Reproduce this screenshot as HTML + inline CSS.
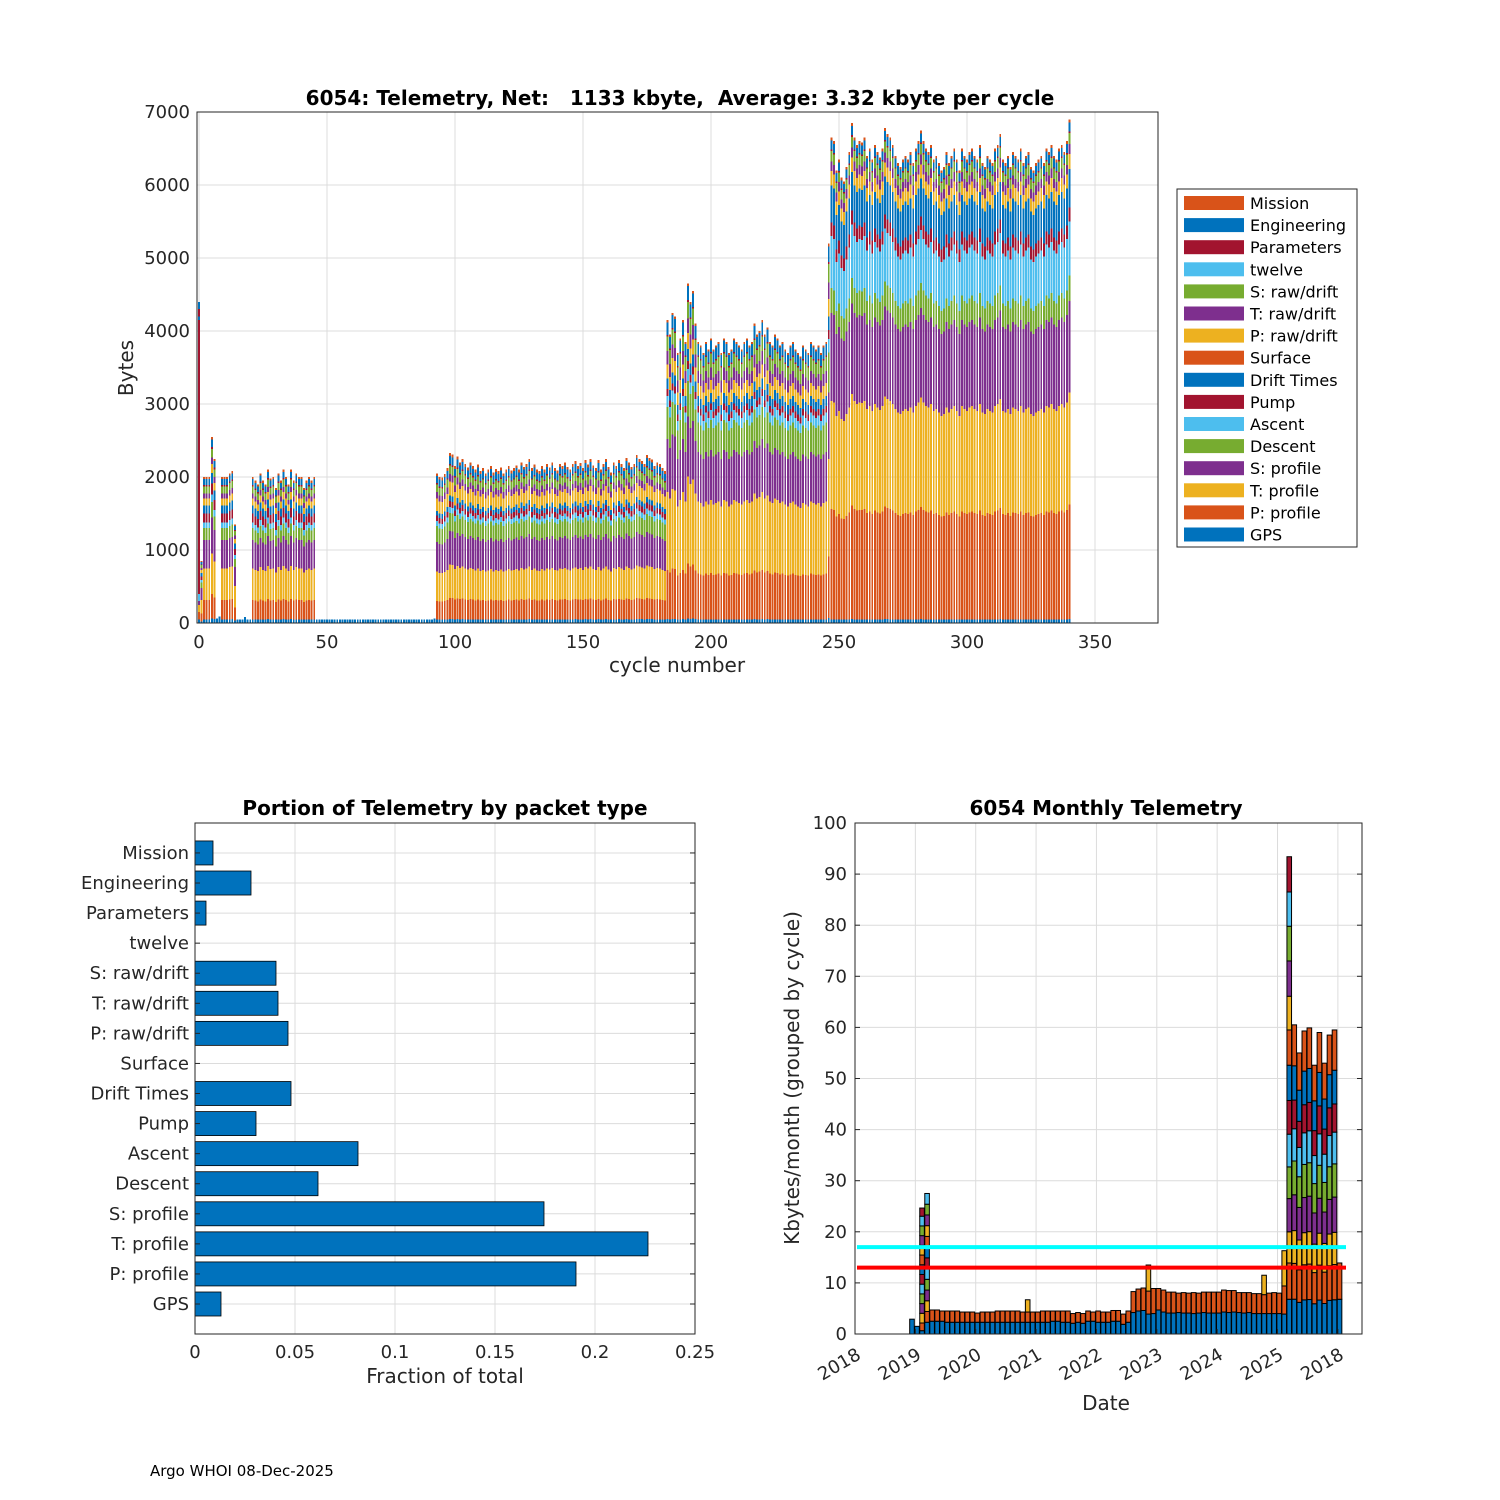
<!DOCTYPE html>
<html><head><meta charset="utf-8">
<style>
html,body{margin:0;padding:0;background:#fff;}
svg{display:block;font-family:"DejaVu Sans","Liberation Sans",sans-serif;}
.tk{font-size:18px;fill:#262626;}
.dtk{font-size:18px;fill:#262626;}
.ttl{font-size:20px;font-weight:bold;fill:#000;white-space:pre;}
.lbl{font-size:20px;fill:#262626;}
.grid{stroke:#dcdcdc;stroke-width:1;}
</style></head>
<body>
<svg id="fig" width="1500" height="1500" viewBox="0 0 1500 1500">
<rect width="1500" height="1500" fill="#fff"/>
<g id="top"></g>
<g id="bl"></g>
<g id="br"></g>
<text x="150" y="1476" font-size="15" fill="#000">Argo WHOI 08-Dec-2025</text>
</svg>
<script>
// ===== data =====
const packetNames = ["GPS","P: profile","T: profile","S: profile","Descent","Ascent","Pump","Drift Times","Surface","P: raw/drift","T: raw/drift","S: raw/drift","twelve","Parameters","Engineering","Mission"];
const profileA = [50,265,435,390,165,80,120,115,0,95,70,95,0,20,80,30];
const profileB = [50,270,420,430,230,70,80,70,0,180,90,110,0,20,100,40];
const profileC = [50,635,1000,685,410,140,90,140,0,180,170,190,0,20,160,30];
const profileD = [50,1480,1450,1180,330,700,180,500,0,190,130,140,0,20,120,40];
const cycle0Total = 4400;
const totalsA1 = [850,2000,2000,2000,2550,2250,60,90,2000,2000,2000,2050,2080,1350]; // cycles 1-14
const totalsE1 = [50,50,50,80,50,50]; // cycles 15-20
const totalsA2 = [2000,1950,1900,2050,1950,1900,2100,1980,2000,1850,2050,1950,2100,2000,1900,2100,1950,2050,2000,2000,1850,1950,2000,1950,2000]; // 21-45
const totalsE2 = [50,50,50,50,50,50,50,50,50,50,50,50,50,50,50,50,50,50,50,50,50,50,50,50,50,50,50,50,50,50,50,50,50,50,50,50,50,50,50,50,50,50,50,50,50,50,60]; // 46-92
const totalsB = [2050,2000,1990,2040,2120,2330,2310,2150,2280,2200,2250,2180,2130,2200,2150,2100,2170,2080,2120,2050,2100,2150,2060,2110,2080,2130,2050,2100,2150,2090,2120,2160,2100,2200,2140,2180,2250,2120,2170,2100,2080,2150,2100,2180,2130,2200,2120,2090,2180,2150,2200,2140,2100,2180,2220,2150,2190,2120,2230,2170,2250,2160,2120,2230,2100,2180,2250,2140,2060,2200,2150,2230,2180,2120,2260,2200,2140,2180,2300,2250,2220,2180,2300,2260,2240,2150,2200,2180,2120,2080]; // 93-182
const totalsC = [4150,3950,4250,4200,3700,3900,4150,3850,4650,4400,4550,4100,3850,3800,3700,3850,3750,3900,3750,3800,3850,3700,3900,3850,3700,3750,3900,3850,3800,3750,3850,3900,3800,3850,4100,3950,4000,4150,3950,4050,3850,3800,3950,3900,3800,3850,3750,3700,3800,3850,3750,3700,3650,3800,3750,3700,3850,3800,3750,3800,3700,3800,3850,5200]; // 183-246
const totalsD = [6650,6600,6200,6350,6100,6050,6250,6450,6850,6650,6550,6600,6580,6650,6400,6500,6350,6550,6450,6380,6500,6780,6700,6650,6550,6400,6300,6250,6350,6400,6350,6450,6300,6500,6600,6750,6600,6500,6450,6550,6350,6400,6300,6200,6250,6450,6300,6400,6500,6350,6200,6500,6400,6350,6450,6500,6400,6350,6550,6300,6250,6400,6350,6300,6500,6550,6700,6350,6300,6400,6250,6450,6400,6350,6500,6300,6400,6450,6250,6200,6300,6350,6400,6300,6500,6450,6550,6400,6350,6500,6550,6450,6600,6900]; // 247-340
const fractions = [0.013,0.1905,0.2265,0.1745,0.0615,0.0815,0.0305,0.048,0,0.0465,0.0415,0.0405,0,0.0055,0.028,0.009];
const yTicksTop = [0,1000,2000,3000,4000,5000,6000,7000];
const xTicksTop = [0,50,100,150,200,250,300,350];
const xTicksBL = [0,0.05,0.1,0.15,0.2,0.25];
const xTickLabelsBL = ["0","0.05","0.1","0.15","0.2","0.25"];
const yTicksBR = [0,10,20,30,40,50,60,70,80,90,100];
const dateTickLabels = ["2018","2019","2020","2021","2022","2023","2024","2025","2018"];
const monthBlueLow = [2.9,1.5]; // i0,i1
const monthSpecial2 = [0.65,1.5,1.9,1.9,1.9,1.9,1.9,1.9,1.9,1.9,1.9,1.9,1.9,1.6];
const monthSpecial3 = [2.3,2.1,2.1,2.1,2.1,2.1,2.1,2.1,2.1,2.1,2.1,2.1,2.1];
const monthBlueA = [2.5,2.5,2.5,2.3,2.3,2.3,2.3,2.3,2.3,2.3,2.3,2.3,2.3,2.3,2.3,2.3,2.3,2.3,2.3,2.3,2.3,2.3,2.3,2.3,2.5,2.5,2.3,2.3,2.1,2.3,2.1,2.5,2.5,2.3,2.3,2.3,2.5,2.5,1.9,2.3]; // i4-43
const monthTotalA = [4.7,4.7,4.5,4.5,4.5,4.5,4.3,4.3,4.3,4.1,4.3,4.3,4.3,4.5,4.5,4.5,4.5,4.5,4.3,4.3,4.3,4.3,4.5,4.5,4.5,4.5,4.5,4.5,4.0,4.2,4.0,4.5,4.3,4.5,4.3,4.3,4.6,4.6,3.9,4.5];
const monthBlueB = [4.2,4.5,4.6,3.9,4.0,4.7,4.3,4.1,4.1,4.2,4.1,4.1,4.0,4.1,4.2,4.1,4.1,4.1,4.3,4.2,4.3,4.2,4.1,4.2,4.0,4.0,4.0,4.0,4.0,4.0]; // i44-73
const monthTotalB = [8.3,8.8,9.0,8.4,8.9,8.9,8.6,8.2,8.2,8.0,8.1,8.0,8.1,8.0,8.2,8.2,8.2,8.2,8.6,8.5,8.5,8.1,8.1,8.1,7.9,7.9,7.7,8.0,8.1,8.0];
const yellowSpikeMonths = [23,47,70];
const yellowSpikeTops = [6.7,13.5,11.5];
const month74 = [3.9,5.5,6.9];
const month75 = [6.8,7.1,6.1,6.5,6.2,6.4,6.6,6.9,6.9,6.6,6.9,6.8,6.7,6.9];
const highSegProfile = [6.8,7,6.4,7,6.6,6.3,5.6,6.7,8];
const highTotals = [60.5,55,59.3,59.9,52.6,59,53,58.5,59.5]; // i76-84
const month85 = [6.8,7.1];
const cyanLevel = 17, redLevel = 13;

// ===== helpers =====
const NS = "http://www.w3.org/2000/svg";
const COLORS = ["#0072BD","#D95319","#EDB120","#7E2F8E","#77AC30","#4DBEEE","#A2142F"];
function mk(parent, tag, attrs, txt){
  const e = document.createElementNS(NS, tag);
  for (const k in attrs) e.setAttribute(k, attrs[k]);
  if (txt !== undefined) e.textContent = txt;
  parent.appendChild(e); return e;
}

// ===== top chart =====
(function(){
  const g = document.getElementById('top');
  const L=197,R=1158,T=112,B=623;
  const xS = c => 199 + c*2.56;
  const yS = v => B - v*(511/7000);
  yTicksTop.forEach(v=>{ const l=mk(g,'line',{x1:L,x2:R,y1:yS(v),y2:yS(v),class:'grid'});
     });
  xTicksTop.forEach(v=>{ const l=mk(g,'line',{x1:xS(v),x2:xS(v),y1:T,y2:B,class:'grid'});
     });
  const bars = mk(g,'g',{'shape-rendering':'crispEdges'});
   
  const w = 1.9;
  function drawCycle(c, total, prof){
    const sum = prof.reduce((a,b)=>a+b,0); let acc=0;
    prof.forEach((p,k)=>{ if(!p) return; const v=p*total/sum;
      const r=mk(bars,'rect',{x:xS(c)-w/2,y:yS(acc+v),width:w,height:v*(511/7000),fill:COLORS[k%7]});
       
      acc+=v; });
  }
  const gpsOnly=[1,0,0,0,0,0,0,0,0,0,0,0,0,0,0,0];
  const pumpOnly=[1,2,2,1,0,2,75,1,0,0,0,0,0,2,2,0];
  drawCycle(0, cycle0Total, pumpOnly);
  const groups=[[1,totalsA1,profileA],[15,totalsE1,gpsOnly],[21,totalsA2,profileA],[46,totalsE2,gpsOnly],[93,totalsB,profileB],[183,totalsC,profileC],[247,totalsD,profileD]];
  groups.forEach(([s,arr,prof])=>arr.forEach((t,i)=>drawCycle(s+i,t,t<150?gpsOnly:prof)));
  mk(g,'rect',{x:L,y:T,width:R-L,height:B-T,fill:'none',stroke:'#262626','stroke-width':1});
  yTicksTop.forEach(v=>{ const t=mk(g,'text',{x:L-7,y:yS(v)+6,'text-anchor':'end',class:'tk'},String(v));
     });
  xTicksTop.forEach(v=>{ const t=mk(g,'text',{x:xS(v),y:B+25,'text-anchor':'middle',class:'tk'},String(v));
     });
  const ti=mk(g,'text',{x:680,y:105,'text-anchor':'middle',class:'ttl'},'6054: Telemetry, Net:   1133 kbyte,  Average: 3.32 kbyte per cycle');
   
  const xl=mk(g,'text',{x:677,y:672,'text-anchor':'middle',class:'lbl'},'cycle number');
   
  const yl=mk(g,'text',{x:0,y:0,'text-anchor':'middle',class:'lbl',transform:'translate(133,368) rotate(-90)'},'Bytes');
   
  const lg=mk(g,'g',{});
   
  mk(lg,'rect',{x:1177,y:189,width:180,height:358,fill:'#fff',stroke:'#262626','stroke-width':1});
  for(let j=0;j<16;j++){ const k=15-j; const y=203+j*22.1;
    const e=mk(lg,'g',{});
     
    mk(e,'rect',{x:1184,y:y-7,width:60,height:14,fill:COLORS[k%7]});
    mk(e,'text',{x:1250,y:y+6,'font-size':16,fill:'#000'},packetNames[k]);
  }
})();

// ===== bottom-left chart =====
(function(){
  const g=document.getElementById('bl');
  const L=195,R=695,T=823,B=1334;
  const xS=f=>L+f*2000;
  const yS=k=>1304-k*30.07;
  xTicksBL.forEach(v=>{ const l=mk(g,'line',{x1:xS(v),x2:xS(v),y1:T,y2:B,class:'grid'});
     });
  packetNames.forEach((n,k)=>{ const l=mk(g,'line',{x1:L,x2:R,y1:yS(k),y2:yS(k),class:'grid'});
     });
  fractions.forEach((f,k)=>{ if(f<=0) return;
    const r=mk(g,'rect',{x:L,y:yS(k)-12,width:xS(f)-L,height:24,fill:'#0072BD',stroke:'#000','stroke-width':0.8});
     });
  mk(g,'rect',{x:L,y:T,width:R-L,height:B-T,fill:'none',stroke:'#262626','stroke-width':1});
  packetNames.forEach((n,k)=>{ mk(g,'line',{x1:L,x2:L+5,y1:yS(k),y2:yS(k),stroke:'#262626'}); mk(g,'line',{x1:R,x2:R-5,y1:yS(k),y2:yS(k),stroke:'#262626'});
    const t=mk(g,'text',{x:L-6,y:yS(k)+6,'text-anchor':'end',class:'tk'},n);
     });
  xTicksBL.forEach((v,i)=>{ const t=mk(g,'text',{x:xS(v),y:B+24,'text-anchor':'middle',class:'tk'},xTickLabelsBL[i]);
     });
  const ti=mk(g,'text',{x:445,y:815,'text-anchor':'middle',class:'ttl'},'Portion of Telemetry by packet type');
   
  const xl=mk(g,'text',{x:445,y:1383,'text-anchor':'middle',class:'lbl'},'Fraction of total');
   
})();

// ===== bottom-right chart =====
(function(){
  const g=document.getElementById('br');
  const L=855,R=1362,T=823,B=1334;
  const firstMonth=11.33;
  const xS=m=>L+m*5.03;
  const yS=v=>B-v*5.11;
  const yearX=k=>L+k*60.36;
  yTicksBR.forEach(v=>{ const l=mk(g,'line',{x1:L,x2:R,y1:yS(v),y2:yS(v),class:'grid'});
     });
  dateTickLabels.forEach((s,k)=>{ const l=mk(g,'line',{x1:yearX(k),x2:yearX(k),y1:T,y2:B,class:'grid'});
     });
  const bars=mk(g,'g',{});
   
  function stack(i,segs){
    let acc=0; const cx=xS(firstMonth+i);
    segs.forEach((s,j)=>{ if(s<=0) return;
      const r=mk(bars,'rect',{x:cx-2.3,y:yS(acc+s),width:4.6,height:s*5.11,fill:COLORS[j%7],stroke:'#000','stroke-width':1});
       
      acc+=s;});
  }
  monthBlueLow.forEach((b,i)=>stack(i,[b]));
  stack(2,monthSpecial2); stack(3,monthSpecial3);
  function low(i,b,t){ const sp=yellowSpikeMonths.indexOf(i);
    const segs=[b,t-b]; if(sp>=0) segs.push(yellowSpikeTops[sp]-t); stack(i,segs); }
  monthBlueA.forEach((b,j)=>low(4+j,b,monthTotalA[j]));
  monthBlueB.forEach((b,j)=>low(44+j,b,monthTotalB[j]));
  stack(74,month74); stack(75,month75);
  const ps=highSegProfile.reduce((a,b)=>a+b,0);
  highTotals.forEach((t,j)=>stack(76+j,highSegProfile.map(s=>s*t/ps)));
  stack(85,month85);
  const cy=mk(g,'line',{x1:857,x2:1346,y1:yS(cyanLevel),y2:yS(cyanLevel),stroke:'#00FFFF','stroke-width':4});
   
  const rd=mk(g,'line',{x1:857,x2:1346,y1:yS(redLevel),y2:yS(redLevel),stroke:'#FF0000','stroke-width':4});
   
  mk(g,'rect',{x:L,y:T,width:R-L,height:B-T,fill:'none',stroke:'#262626','stroke-width':1});
  yTicksBR.forEach(v=>{ mk(g,'line',{x1:L,x2:L+5,y1:yS(v),y2:yS(v),stroke:'#262626'}); mk(g,'line',{x1:R,x2:R-5,y1:yS(v),y2:yS(v),stroke:'#262626'});
    const t=mk(g,'text',{x:L-8,y:yS(v)+6,'text-anchor':'end',class:'tk'},String(v));
     });
  dateTickLabels.forEach((s,k)=>{ const x=yearX(k);
    mk(g,'line',{x1:x,x2:x,y1:B,y2:B-5,stroke:'#262626'});
    const t=mk(g,'text',{x:0,y:0,'text-anchor':'end',class:'dtk',transform:`translate(${x+7},${B+24}) rotate(-30)`},s);
     });
  const ti=mk(g,'text',{x:1106,y:815,'text-anchor':'middle',class:'ttl'},'6054 Monthly Telemetry');
   
  const xl=mk(g,'text',{x:1106,y:1410,'text-anchor':'middle',class:'lbl'},'Date');
   
  const yl=mk(g,'text',{x:0,y:0,'text-anchor':'middle',class:'lbl',transform:'translate(799,1078) rotate(-90)'},'Kbytes/month (grouped by cycle)');
   
})();
</script>
</body></html>
